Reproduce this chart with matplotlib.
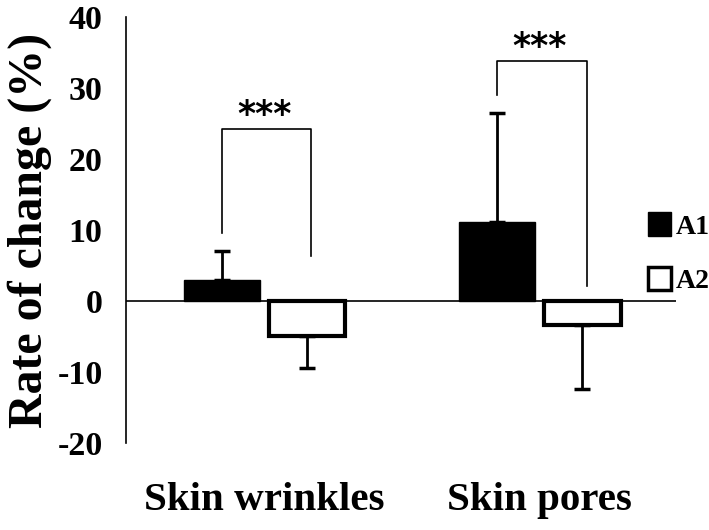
import matplotlib
matplotlib.use("Agg")
import matplotlib.pyplot as plt
import numpy as np
from matplotlib.patches import Patch

categories = ["Skin wrinkles", "Skin pores"]
series_names = ["A1", "A2"]
a1_values = [3.0, 11.1]
a1_sd = [4.0, 15.4]
a2_values = [-4.9, -3.4]
a2_sd = [4.5, 9.0]
yticks = [-20, -10, 0, 10, 20, 30, 40]
sig_labels = ["***", "***"]
# bracket levels (top, left leg bottom, right leg bottom)
bracket_tops = [24.2, 33.8]
bracket_left = [9.6, 29.0]
bracket_right = [6.3, 2.1]

plt.rcParams['font.family'] = ['Liberation Serif', 'DejaVu Serif']
plt.rcParams['font.weight'] = 'bold'

fig = plt.figure(figsize=(7.09, 5.30), dpi=100)
ax = fig.add_axes([0.178, 0.164, 0.775, 0.804])

x = np.arange(len(categories))
w = 0.277
off = 0.155

ax.bar(x - off, a1_values, w, color='black', edgecolor='black', linewidth=1, zorder=2)
ax.bar(x + off, a2_values, w, color='white', edgecolor='black', linewidth=3, zorder=2)

# one-sided error bars
ax.errorbar(x - off, a1_values, yerr=[np.zeros(2), a1_sd], fmt='none', ecolor='black',
            elinewidth=2, capsize=6, capthick=2.5, zorder=1)
ax.errorbar(x + off, a2_values, yerr=[a2_sd, np.zeros(2)], fmt='none', ecolor='black',
            elinewidth=2, capsize=6, capthick=2.5, zorder=1)

ax.axhline(0, color='black', linewidth=1.2, zorder=3)

# significance brackets
for i in range(len(categories)):
    xl = x[i] - off
    xr = x[i] + off + 0.015
    ax.plot([xl, xl, xr, xr], [bracket_left[i], bracket_tops[i], bracket_tops[i], bracket_right[i]],
            color='black', linewidth=1.2)
    ax.text(x[i], bracket_tops[i] - 0.4, sig_labels[i], ha='center', va='bottom',
            fontsize=25, fontweight='bold', family='DejaVu Sans')

ax.set_xlim(-0.503, 1.494)
ax.set_ylim(-20, 40)
ax.set_yticks(yticks)
ax.set_yticklabels([str(t) for t in yticks], fontsize=24.5, fontweight='bold')
ax.tick_params(axis='y', length=0, pad=17)
ax.set_xticks(x)
ax.set_xticklabels(categories, fontsize=29.5, fontweight='bold')
ax.tick_params(axis='x', length=0, pad=28)

for s in ['top', 'right', 'bottom']:
    ax.spines[s].set_visible(False)
ax.spines['left'].set_linewidth(1.2)

ax.set_ylabel("Rate of change (%)", fontsize=34.5, fontweight='bold', labelpad=4)

# legend
handles = [Patch(facecolor='black', edgecolor='black', linewidth=1),
           Patch(facecolor='white', edgecolor='black', linewidth=2.5)]
leg = ax.legend(handles, series_names, loc='center left', bbox_to_anchor=(0.93, 0.445),
                frameon=False, fontsize=20, handlelength=0.8, handleheight=0.9,
                handletextpad=0.2, labelspacing=1.0, borderaxespad=0)
for t in leg.get_texts():
    t.set_fontweight('bold')

fig.savefig("out.png", dpi=100)
